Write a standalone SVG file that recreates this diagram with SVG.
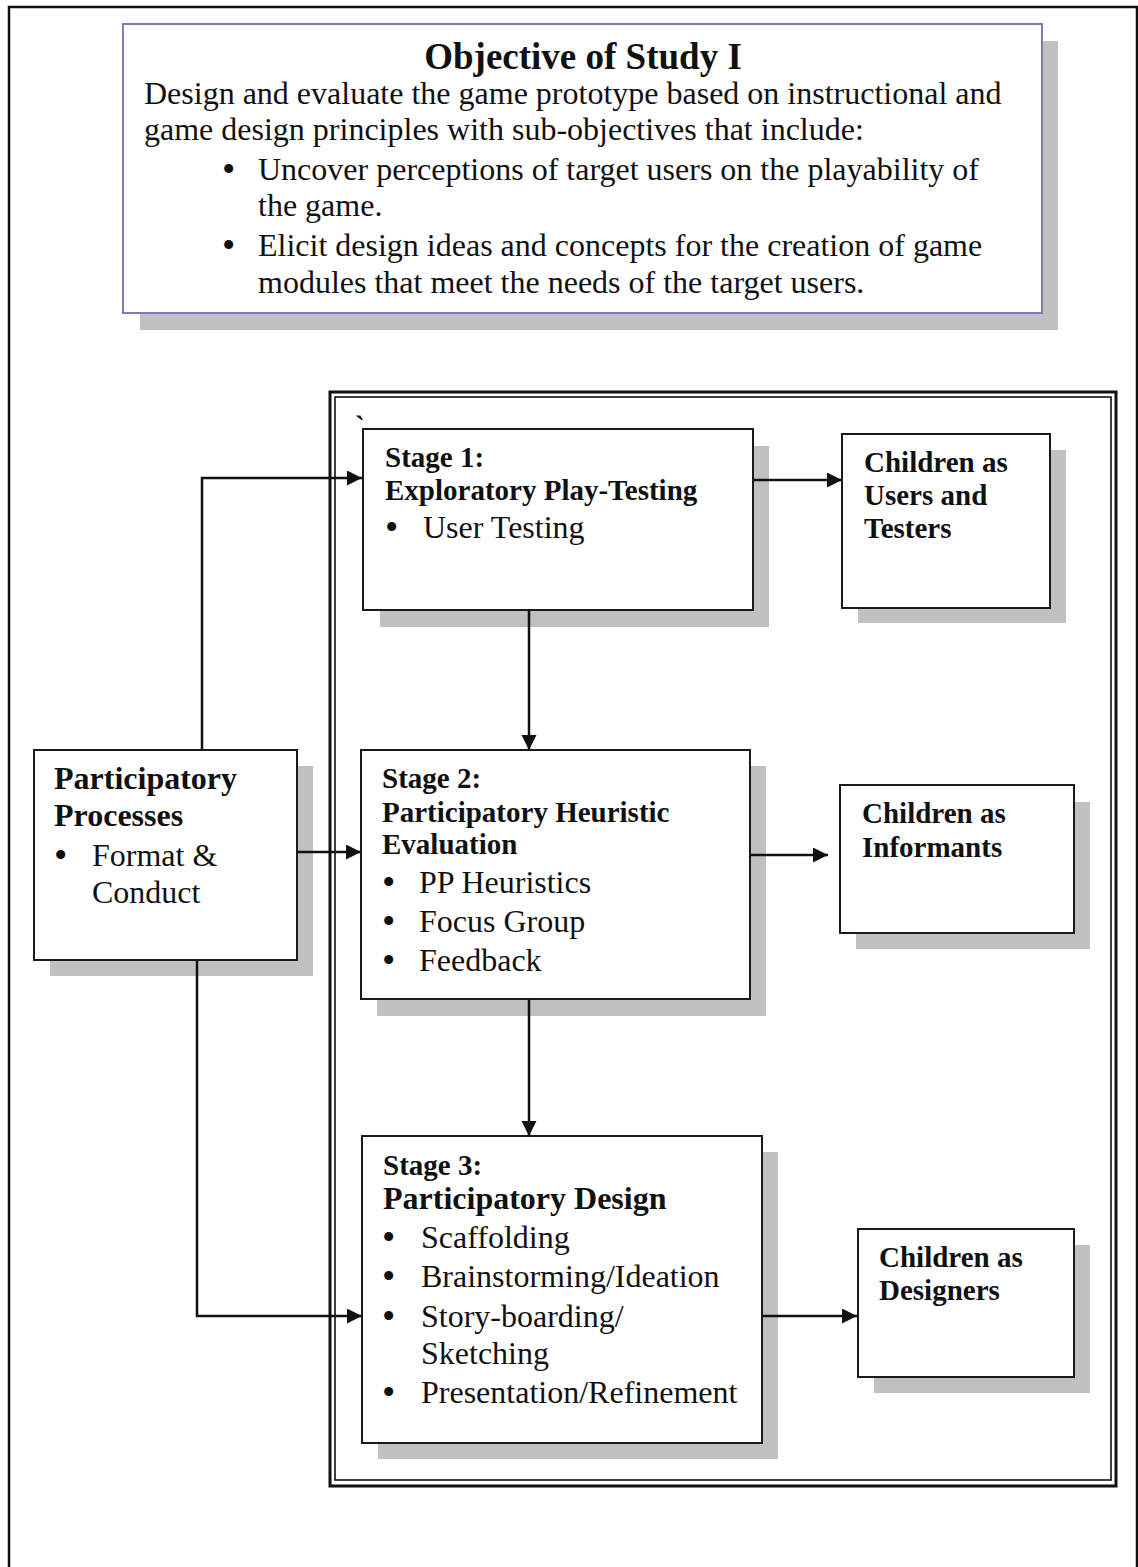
<svg xmlns="http://www.w3.org/2000/svg" width="1138" height="1567" viewBox="0 0 1138 1567">
<style>
text{font-family:"Liberation Serif","Times New Roman",serif;fill:#111}
.b29{font-weight:bold;font-size:29px}
.b32{font-weight:bold;font-size:32px}
.r32{font-size:32px}
.bul{font-size:38px}
.shadow{fill:#c0c0c0}
.box{fill:#fff;stroke:#1a1a1a;stroke-width:2}
.conn{fill:none;stroke:#111;stroke-width:2.5}
</style>
<defs>
<marker id="ah" markerUnits="userSpaceOnUse" markerWidth="16" markerHeight="16" refX="15" refY="7.5" orient="auto">
<path d="M0,0 L15,7.5 L0,15 z" fill="#111"/>
</marker>
</defs>
<rect width="1138" height="1567" fill="#fff"/>
<path d="M9,1567 V7 H1137 V1567" fill="none" stroke="#111" stroke-width="2.5"/>

<g id="objective">
<rect class="shadow" x="140" y="41" width="918" height="289"/>
<rect x="123" y="24" width="919" height="289" fill="#fff" stroke="#8a76b4" stroke-width="2"/>
<text class="b32" x="583" y="69" text-anchor="middle" style="font-size:37px">Objective of Study I</text>
<text class="r32" x="144" y="104">Design and evaluate the game prototype based on instructional and</text>
<text class="r32" x="144" y="140">game design principles with sub-objectives that include:</text>
<text class="bul" x="222" y="182">•</text>
<text class="r32" x="258" y="180">Uncover perceptions of target users on the playability of</text>
<text class="r32" x="258" y="216">the game.</text>
<text class="bul" x="222" y="258">•</text>
<text class="r32" x="258" y="256">Elicit design ideas and concepts for the creation of game</text>
<text class="r32" x="258" y="293">modules that meet the needs of the target users.</text>
</g>

<g id="frame">
<rect x="330" y="392" width="786" height="1094" fill="none" stroke="#111" stroke-width="3"/>
<rect x="335" y="397" width="776" height="1083" fill="none" stroke="#111" stroke-width="1.6"/>
<text class="b29" x="355" y="436">`</text>
</g>

<g id="stage1">
<rect class="shadow" x="380" y="446" width="389" height="181"/>
<rect class="box" x="363" y="429" width="390" height="181"/>
<text class="b29" x="385" y="467">Stage 1:</text>
<text class="b29" x="385" y="500">Exploratory Play-Testing</text>
<text class="bul" x="385" y="540">•</text>
<text class="r32" x="423" y="538">User Testing</text>
</g>

<g id="users">
<rect class="shadow" x="858" y="450" width="208" height="173"/>
<rect class="box" x="842" y="434" width="208" height="174"/>
<text class="b29" x="864" y="472">Children as</text>
<text class="b29" x="864" y="505">Users and</text>
<text class="b29" x="864" y="538">Testers</text>
</g>

<g id="participatory">
<rect class="shadow" x="50" y="766" width="263" height="210"/>
<rect class="box" x="34" y="750" width="263" height="210"/>
<text class="b32" x="54" y="789">Participatory</text>
<text class="b32" x="54" y="826">Processes</text>
<text class="bul" x="54" y="868">•</text>
<text class="r32" x="92" y="866">Format &amp;</text>
<text class="r32" x="92" y="903">Conduct</text>
</g>

<g id="stage2">
<rect class="shadow" x="377" y="766" width="389" height="250"/>
<rect class="box" x="361" y="750" width="389" height="249"/>
<text class="b29" x="382" y="788">Stage 2:</text>
<text class="b29" x="382" y="822">Participatory Heuristic</text>
<text class="b29" x="382" y="854">Evaluation</text>
<text class="bul" x="382" y="895">•</text>
<text class="r32" x="419" y="893">PP Heuristics</text>
<text class="bul" x="382" y="934">•</text>
<text class="r32" x="419" y="932">Focus Group</text>
<text class="bul" x="382" y="973">•</text>
<text class="r32" x="419" y="971">Feedback</text>
</g>

<g id="informants">
<rect class="shadow" x="856" y="802" width="234" height="147"/>
<rect class="box" x="840" y="785" width="234" height="148"/>
<text class="b29" x="862" y="823">Children as</text>
<text class="b29" x="862" y="857">Informants</text>
</g>

<g id="stage3">
<rect class="shadow" x="378" y="1152" width="400" height="307"/>
<rect class="box" x="362" y="1136" width="400" height="307"/>
<text class="b29" x="383" y="1175">Stage 3:</text>
<text class="b32" x="383" y="1209">Participatory Design</text>
<text class="bul" x="382" y="1250">•</text>
<text class="r32" x="421" y="1248">Scaffolding</text>
<text class="bul" x="382" y="1289">•</text>
<text class="r32" x="421" y="1287">Brainstorming/Ideation</text>
<text class="bul" x="382" y="1329">•</text>
<text class="r32" x="421" y="1327">Story-boarding/</text>
<text class="r32" x="421" y="1364">Sketching</text>
<text class="bul" x="382" y="1405">•</text>
<text class="r32" x="421" y="1403">Presentation/Refinement</text>
</g>

<g id="designers">
<rect class="shadow" x="874" y="1245" width="216" height="148"/>
<rect class="box" x="858" y="1229" width="216" height="148"/>
<text class="b29" x="879" y="1267">Children as</text>
<text class="b29" x="879" y="1300">Designers</text>
</g>

<g id="connectors">
<path class="conn" d="M202,750 V478 H362" marker-end="url(#ah)"/>
<path class="conn" d="M297,852 H361" marker-end="url(#ah)"/>
<path class="conn" d="M197,960 V1316 H362" marker-end="url(#ah)"/>
<path class="conn" d="M753,480 H842" marker-end="url(#ah)"/>
<path class="conn" d="M529,610 V750" marker-end="url(#ah)"/>
<path class="conn" d="M750,855 H828" marker-end="url(#ah)"/>
<path class="conn" d="M529,999 V1136" marker-end="url(#ah)"/>
<path class="conn" d="M762,1316 H857" marker-end="url(#ah)"/>
</g>
</svg>
